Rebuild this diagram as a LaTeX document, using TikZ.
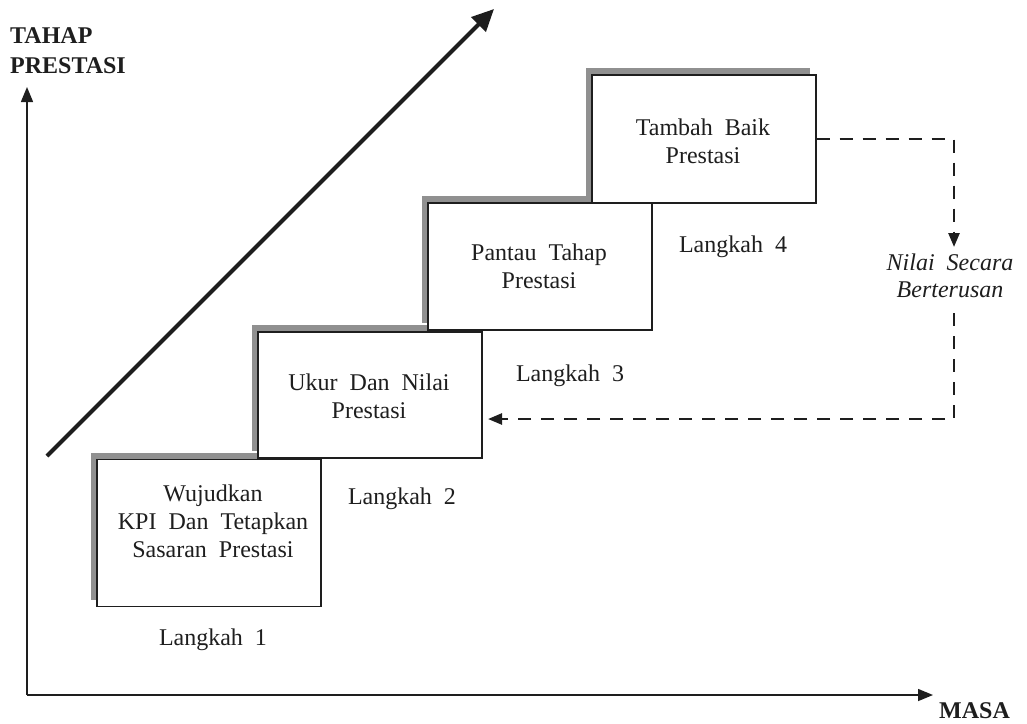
\documentclass[tikz,border=0pt]{standalone}
\usepackage{fontspec}
\setmainfont{Liberation Serif}
\usetikzlibrary{arrows.meta,shadows,calc}
\definecolor{shadowgray}{HTML}{909090}
\definecolor{ink}{HTML}{1E1E1E}
\tikzset{
  stepbox/.style={draw=ink, line width=1.3pt, fill=white, minimum width=224pt, inner sep=0pt,
    general shadow={fill=shadowgray, shadow xshift=-6pt, shadow yshift=7pt}},
  widespace/.style={execute at begin node={\spaceskip=0.5em\relax}},
  boxtext/.style={align=center, text=ink, font=\fontsize{24}{28}\selectfont, widespace},
  steplabel/.style={text=ink, font=\fontsize{24}{28}\selectfont, widespace},
  axislabel/.style={text=ink, font=\fontsize{24}{30}\selectfont\bfseries, inner sep=0pt},
  axis/.style={draw=ink, line width=1.5pt, -{Triangle[length=15pt,width=12pt]}},
  loop/.style={draw=ink, line width=2.5pt, dash pattern=on 13pt off 10pt, -{Triangle[length=14pt,width=11pt]}},
}
\begin{document}
\begin{tikzpicture}[x=1pt,y=-1pt]
\useasboundingbox (0,0) rectangle (1027,723);
% axes
\coordinate (origin) at (27,695);
\coordinate (ytip) at (27,87);
\coordinate (xtip) at (933,695);
\draw[axis] (origin) -- (ytip);
\draw[axis] (origin) -- (xtip);
\node[axislabel, anchor=base west] (ylab1) at (10,43) {TAHAP};
\node[axislabel, anchor=base west] (ylab2) at (10,73) {PRESTASI};
\node[axislabel, anchor=base west] (xlab) at (939,718) {MASA};
% diagonal trend arrow
\coordinate (d0) at (47,456);
\coordinate (d1) at (494,9);
\draw[draw=ink, line width=4pt, -{Triangle[length=22pt,width=20pt]}] (d0) -- (d1);
% steps
\node[stepbox, minimum height=147pt] (b1) at (209,533) {};
\node[stepbox, minimum height=126pt] (b2) at (370,395) {};
\node[stepbox, minimum height=127pt] (b3) at (540,266.5) {};
\node[stepbox, minimum height=128pt] (b4) at (704,139) {};
\node[boxtext] (t1) at (213,521) {Wujudkan\\ KPI Dan Tetapkan\\ Sasaran Prestasi};
\node[boxtext] (t2) at (369,396) {Ukur Dan Nilai\\ Prestasi};
\node[boxtext] (t3) at (539,266) {Pantau Tahap\\ Prestasi};
\node[boxtext] (t4) at (703,141) {Tambah Baik\\ Prestasi};
% step labels
\node[steplabel] (l1) at (213,640) {Langkah 1};
\node[steplabel] (l2) at (402,499) {Langkah 2};
\node[steplabel] (l3) at (570,376) {Langkah 3};
\node[steplabel] (l4) at (733,247) {Langkah 4};
% continuous loop
\node[boxtext, font=\fontsize{24}{27}\selectfont\itshape, inner sep=2pt] (nilai) at (950,276) {Nilai Secara\\ Berterusan};
\coordinate (lt) at (954,247);
\coordinate (ls) at (954,313);
\coordinate (ret) at (488,419);
\draw[loop] (b4.east) -| (lt);
\draw[loop] (ls) |- (ret);
\end{tikzpicture}
\end{document}
